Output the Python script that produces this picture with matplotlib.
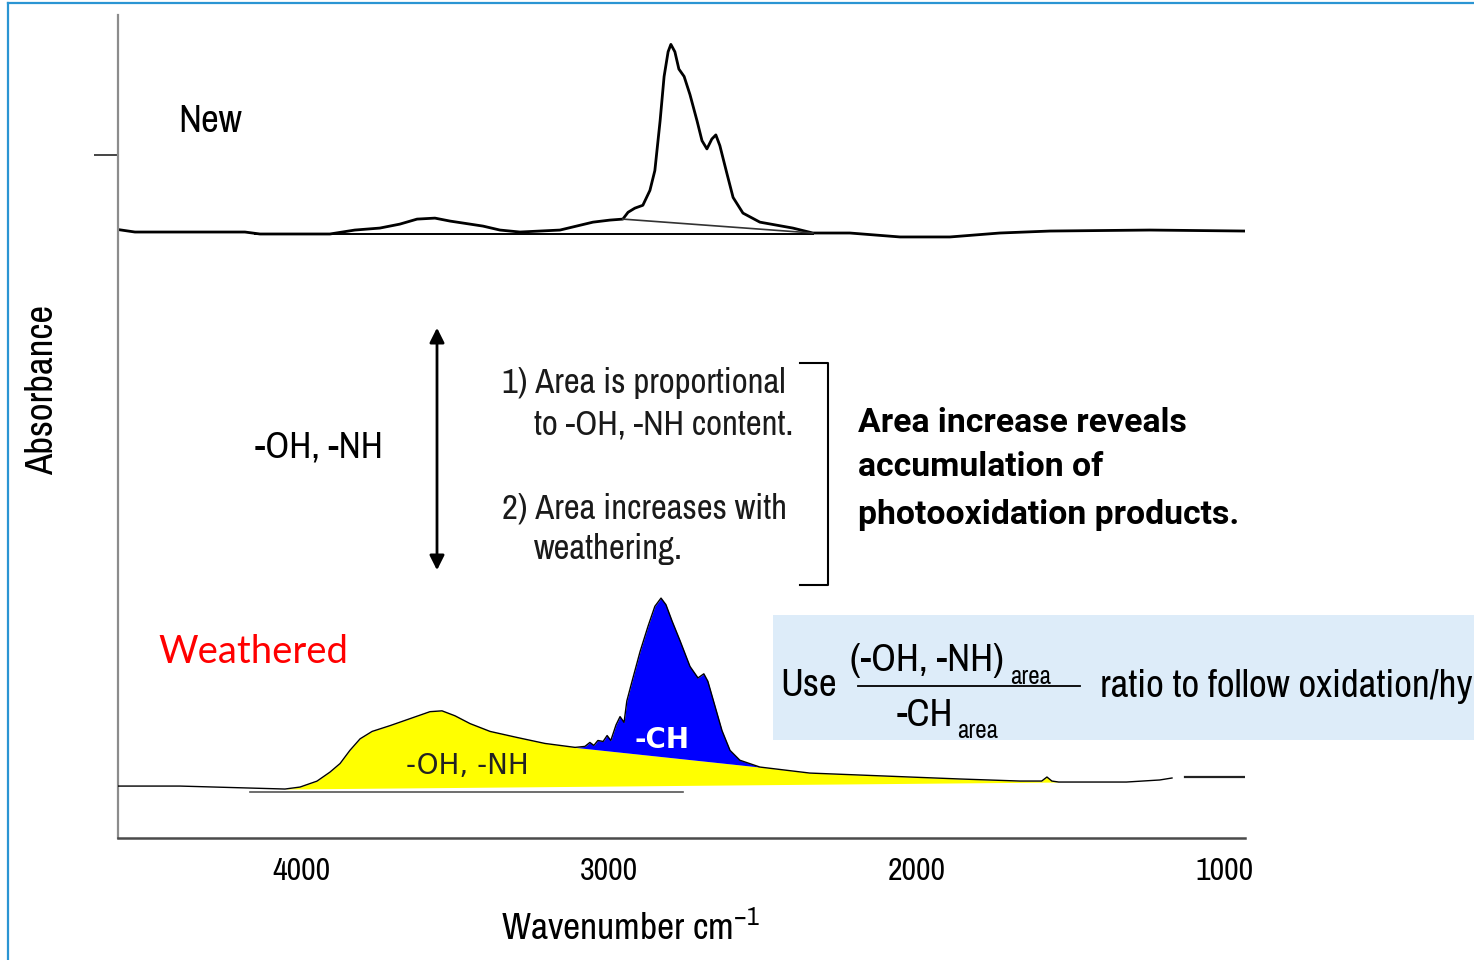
import numpy as np
import matplotlib
matplotlib.use("Agg")
import matplotlib.pyplot as plt
from matplotlib import font_manager
from matplotlib.font_manager import FontProperties
from matplotlib.lines import Line2D
from matplotlib.patches import Rectangle, FancyArrowPatch

W, H = 1474, 960


def first_font(candidates):
    for name in candidates:
        try:
            font_manager.findfont(FontProperties(family=name), fallback_to_default=False)
            return name
        except ValueError:
            continue
    return "DejaVu Sans"


NARROW = first_font(["Liberation Sans Narrow", "Arial Narrow", "Archivo Narrow",
                     "Roboto Condensed", "IBM Plex Sans Condensed", "Liberation Sans"])
FAMILY = [NARROW, "DejaVu Sans"]

plt.rcParams["font.family"] = FAMILY
plt.rcParams["mathtext.fontset"] = "custom"
plt.rcParams["mathtext.rm"] = NARROW
plt.rcParams["mathtext.it"] = NARROW

# ---- spectra (wavenumber in cm-1, absorbance above each trace's baseline) ----
new_wn = [4594, 4539, 4182, 4133, 3906, 3825, 3744, 3679, 3623, 3565, 3516, 3451,
          3409, 3354, 3289, 3159, 3052, 2997, 2955, 2938, 2916, 2890, 2867, 2851,
          2834, 2821, 2808, 2799, 2786, 2773, 2756, 2737, 2714, 2698, 2682, 2666,
          2653, 2640, 2617, 2597, 2565, 2510, 2403, 2338, 2218, 2055, 1893, 1731,
          1568, 1244, 935]
new_abs = [0.003, 0.0, 0.0, -0.0024, -0.0024, 0.0024, 0.0048, 0.0096, 0.0157, 0.0169,
           0.0133, 0.0096, 0.0072, 0.0024, 0.0, 0.0024, 0.012, 0.0145, 0.0157, 0.024,
           0.029, 0.0325, 0.0506, 0.0747, 0.135, 0.189, 0.219, 0.228, 0.219, 0.198,
           0.189, 0.167, 0.135, 0.111, 0.101, 0.113, 0.118, 0.105, 0.071, 0.042,
           0.023, 0.012, 0.0048, -0.0012, -0.0012, -0.006, -0.006, -0.0012, 0.0012,
           0.0024, 0.0012]
new_offset = 0.7363

# baselines drawn under the new sample's bands
new_flat_base_wn = [4150, 2338]
new_flat_base_abs = [-0.0024, -0.0024]
new_ch_base_wn = [2955, 2338]
new_ch_base_abs = [0.0157, -0.0012]

weath_wn = [4594, 4393, 4166, 4052, 4003, 3948, 3906, 3873, 3841, 3808, 3769, 3711,
            3646, 3581, 3542, 3500, 3451, 3386, 3299, 3208, 3110, 3078, 3062, 3049,
            3036, 3019, 3006, 2994, 2977, 2964, 2951, 2942, 2925, 2899, 2873, 2851,
            2831, 2815, 2795, 2769, 2737, 2711, 2692, 2679, 2656, 2633, 2607, 2575,
            2510, 2348, 2185, 2023, 1860, 1666, 1595, 1578, 1562, 1540, 1320, 1212,
            1172]
weath_abs = [0.0036, 0.0036, 0.0012, 0.0, 0.0024, 0.0096, 0.0205, 0.031, 0.047, 0.061,
             0.070, 0.077, 0.0855, 0.094, 0.095, 0.089, 0.0795, 0.070, 0.0627, 0.0554,
             0.0506, 0.0518, 0.0566, 0.053, 0.059, 0.0578, 0.065, 0.059, 0.078, 0.088,
             0.081, 0.107, 0.131, 0.167, 0.198, 0.222, 0.232, 0.224, 0.204, 0.180,
             0.149, 0.135, 0.140, 0.131, 0.101, 0.071, 0.047, 0.035, 0.0267, 0.0194,
             0.017, 0.0146, 0.0122, 0.0097, 0.0097, 0.0146, 0.0097, 0.0085, 0.0085,
             0.011, 0.0134]
weath_offset = 0.0595
weath_tail_wn = [1130, 935]
weath_tail_abs = [0.0145, 0.0145]
weath_base_wn = [4166, 2760]
weath_base_abs = [-0.0036, -0.0036]

# integration limits and baselines for the two bands
oh_band_wn = [1540, 4052]
oh_band_base = [0.0085, 0.0]
ch_band_wn = [2510, 3110]
ch_band_base = [0.0267, 0.0506]

tick_values = [4000, 3000, 2000, 1000]
tick_labels = ["4000", "3000", "2000", "1000"]

YELLOW = "#ffff00"
BLUE = "#0000ff"
FRAME = "#2b95d3"


def fx(x):
    return x / W


def fy(y):
    return 1 - y / H


fig = plt.figure(figsize=(W / 100, H / 100), dpi=100)
fig.patch.set_facecolor("white")

# slide frame
fig.add_artist(Line2D([fx(8), 1], [fy(3), fy(3)], color=FRAME, lw=1.6))
fig.add_artist(Line2D([fx(8), fx(8)], [fy(3), 0], color=FRAME, lw=1.6))

# highlighted formula band
fig.add_artist(Rectangle((fx(773), fy(740)), 1 - fx(773), (740 - 615) / H,
                         facecolor="#ddecf9", edgecolor="none", zorder=0))

ax = fig.add_axes([fx(118), fy(838), (1245 - 118) / W, (838 - 15) / H])
ax.set_xlim(4594, 935)
ax.set_ylim(0, 1)
ax.patch.set_alpha(0)

for s in ("top", "right"):
    ax.spines[s].set_visible(False)
ax.spines["left"].set_color("#8c8c8c")
ax.spines["left"].set_linewidth(1.6)
ax.spines["bottom"].set_color("#4a4a4a")
ax.spines["bottom"].set_linewidth(1.8)

ax.set_xticks(tick_values)
ax.set_xticklabels(tick_labels)
ax.tick_params(axis="x", length=0, pad=14, labelsize=23)
ax.set_yticks([0.83])
ax.set_yticklabels([""])
ax.tick_params(axis="y", length=17, width=1.4, color="#444444", direction="out")

ax.set_xlabel("Wavenumber cm$^{-1}$", fontsize=27, va="center", ha="center")
ax.xaxis.set_label_coords((630 - 118) / 1127, (838 - 928) / 823)
ax.set_ylabel("Absorbance", fontsize=28, va="center", ha="center")
ax.yaxis.set_label_coords((43 - 118) / 1127, (838 - 390) / 823)

# new sample trace
nw = np.array(new_wn)
na = np.array(new_abs) + new_offset
ax.plot(nw, na, color="black", lw=2.0, solid_joinstyle="round")
ax.plot(new_flat_base_wn, np.array(new_flat_base_abs) + new_offset, color="black", lw=1.4)
ax.plot(new_ch_base_wn, np.array(new_ch_base_abs) + new_offset, color="#333333", lw=1.2)

# weathered trace with integrated band areas
ww = np.array(weath_wn)
wa = np.array(weath_abs) + weath_offset
oh_low = np.interp(ww, oh_band_wn, oh_band_base) + weath_offset
ch_line = np.interp(ww, ch_band_wn, ch_band_base) + weath_offset
in_oh = (ww <= oh_band_wn[1]) & (ww >= oh_band_wn[0])
in_ch = (ww <= ch_band_wn[1]) & (ww >= ch_band_wn[0])
yellow_top = np.where(in_ch, np.minimum(wa, ch_line), wa)
ax.fill_between(ww, oh_low, yellow_top, where=in_oh, color=YELLOW, lw=0,
                interpolate=True, zorder=2)
ax.fill_between(ww, ch_line, wa, where=in_ch, color=BLUE, lw=0,
                interpolate=True, zorder=2)
ax.plot(ww, wa, color="black", lw=1.0, zorder=3)
ax.plot(weath_tail_wn, np.array(weath_tail_abs) + weath_offset, color="#222222", lw=1.6)
ax.plot(weath_base_wn, np.array(weath_base_abs) + weath_offset, color="#555555", lw=1.2,
        zorder=1)

# band labels inside the filled areas
fig.text(fx(662), fy(740), "-CH", color="white", fontsize=20, weight="bold",
         family=["DejaVu Sans"], ha="center", va="center", zorder=5)
fig.text(fx(467), fy(766), "-OH, -NH", color="#222222", fontsize=20,
         family=["DejaVu Sans"], ha="center", va="center", zorder=5)

# annotations
fig.text(fx(178), fy(122), "New", fontsize=28, ha="left", va="center")
fig.text(fx(158), fy(652), "Weathered", fontsize=27.5, color="#ff0000",
         family=["Lato", "DejaVu Sans"], ha="left", va="center")
fig.text(fx(255), fy(447), "-OH, -NH", fontsize=27, ha="left", va="center")

arrow = FancyArrowPatch((fx(437), fy(325)), (fx(437), fy(573)),
                        transform=fig.transFigure, arrowstyle="<|-|>",
                        mutation_scale=22, lw=2.0, color="black")
fig.add_artist(arrow)

for txt, x, y in [("1) Area is proportional", 502, 383),
                  ("to -OH, -NH content.", 534, 425),
                  ("2) Area increases with", 502, 509),
                  ("weathering.", 534, 549)]:
    fig.text(fx(x), fy(y), txt, fontsize=25, ha="left", va="center", color="#1a1a1a")

fig.add_artist(Line2D([fx(800), fx(828), fx(828), fx(800)],
                      [fy(363), fy(363), fy(585), fy(585)], color="black", lw=1.5))

for txt, y in [("Area increase reveals", 423), ("accumulation of", 467),
               ("photooxidation products.", 515)]:
    fig.text(fx(858), fy(y), txt, fontsize=24.3, weight="bold",
             family=["Roboto", "DejaVu Sans"], ha="left", va="center")

# ratio formula
fig.text(fx(780), fy(686), "Use", fontsize=28, ha="left", va="center")
fig.text(fx(850), fy(660), "(-OH, -NH)", fontsize=28, ha="left", va="center")
fig.text(fx(1010), fy(676), "area", fontsize=18, ha="left", va="center")
fig.add_artist(Line2D([fx(858), fx(1080)], [fy(686), fy(686)], color="black", lw=1.3))
fig.text(fx(897), fy(715), "-CH", fontsize=28, ha="left", va="center")
fig.text(fx(957), fy(731), "area", fontsize=18, ha="left", va="center")
fig.text(fx(1100), fy(686), "ratio to follow oxidation/hydrolysis", fontsize=28,
         ha="left", va="center")

fig.savefig("out.png", dpi=100)
